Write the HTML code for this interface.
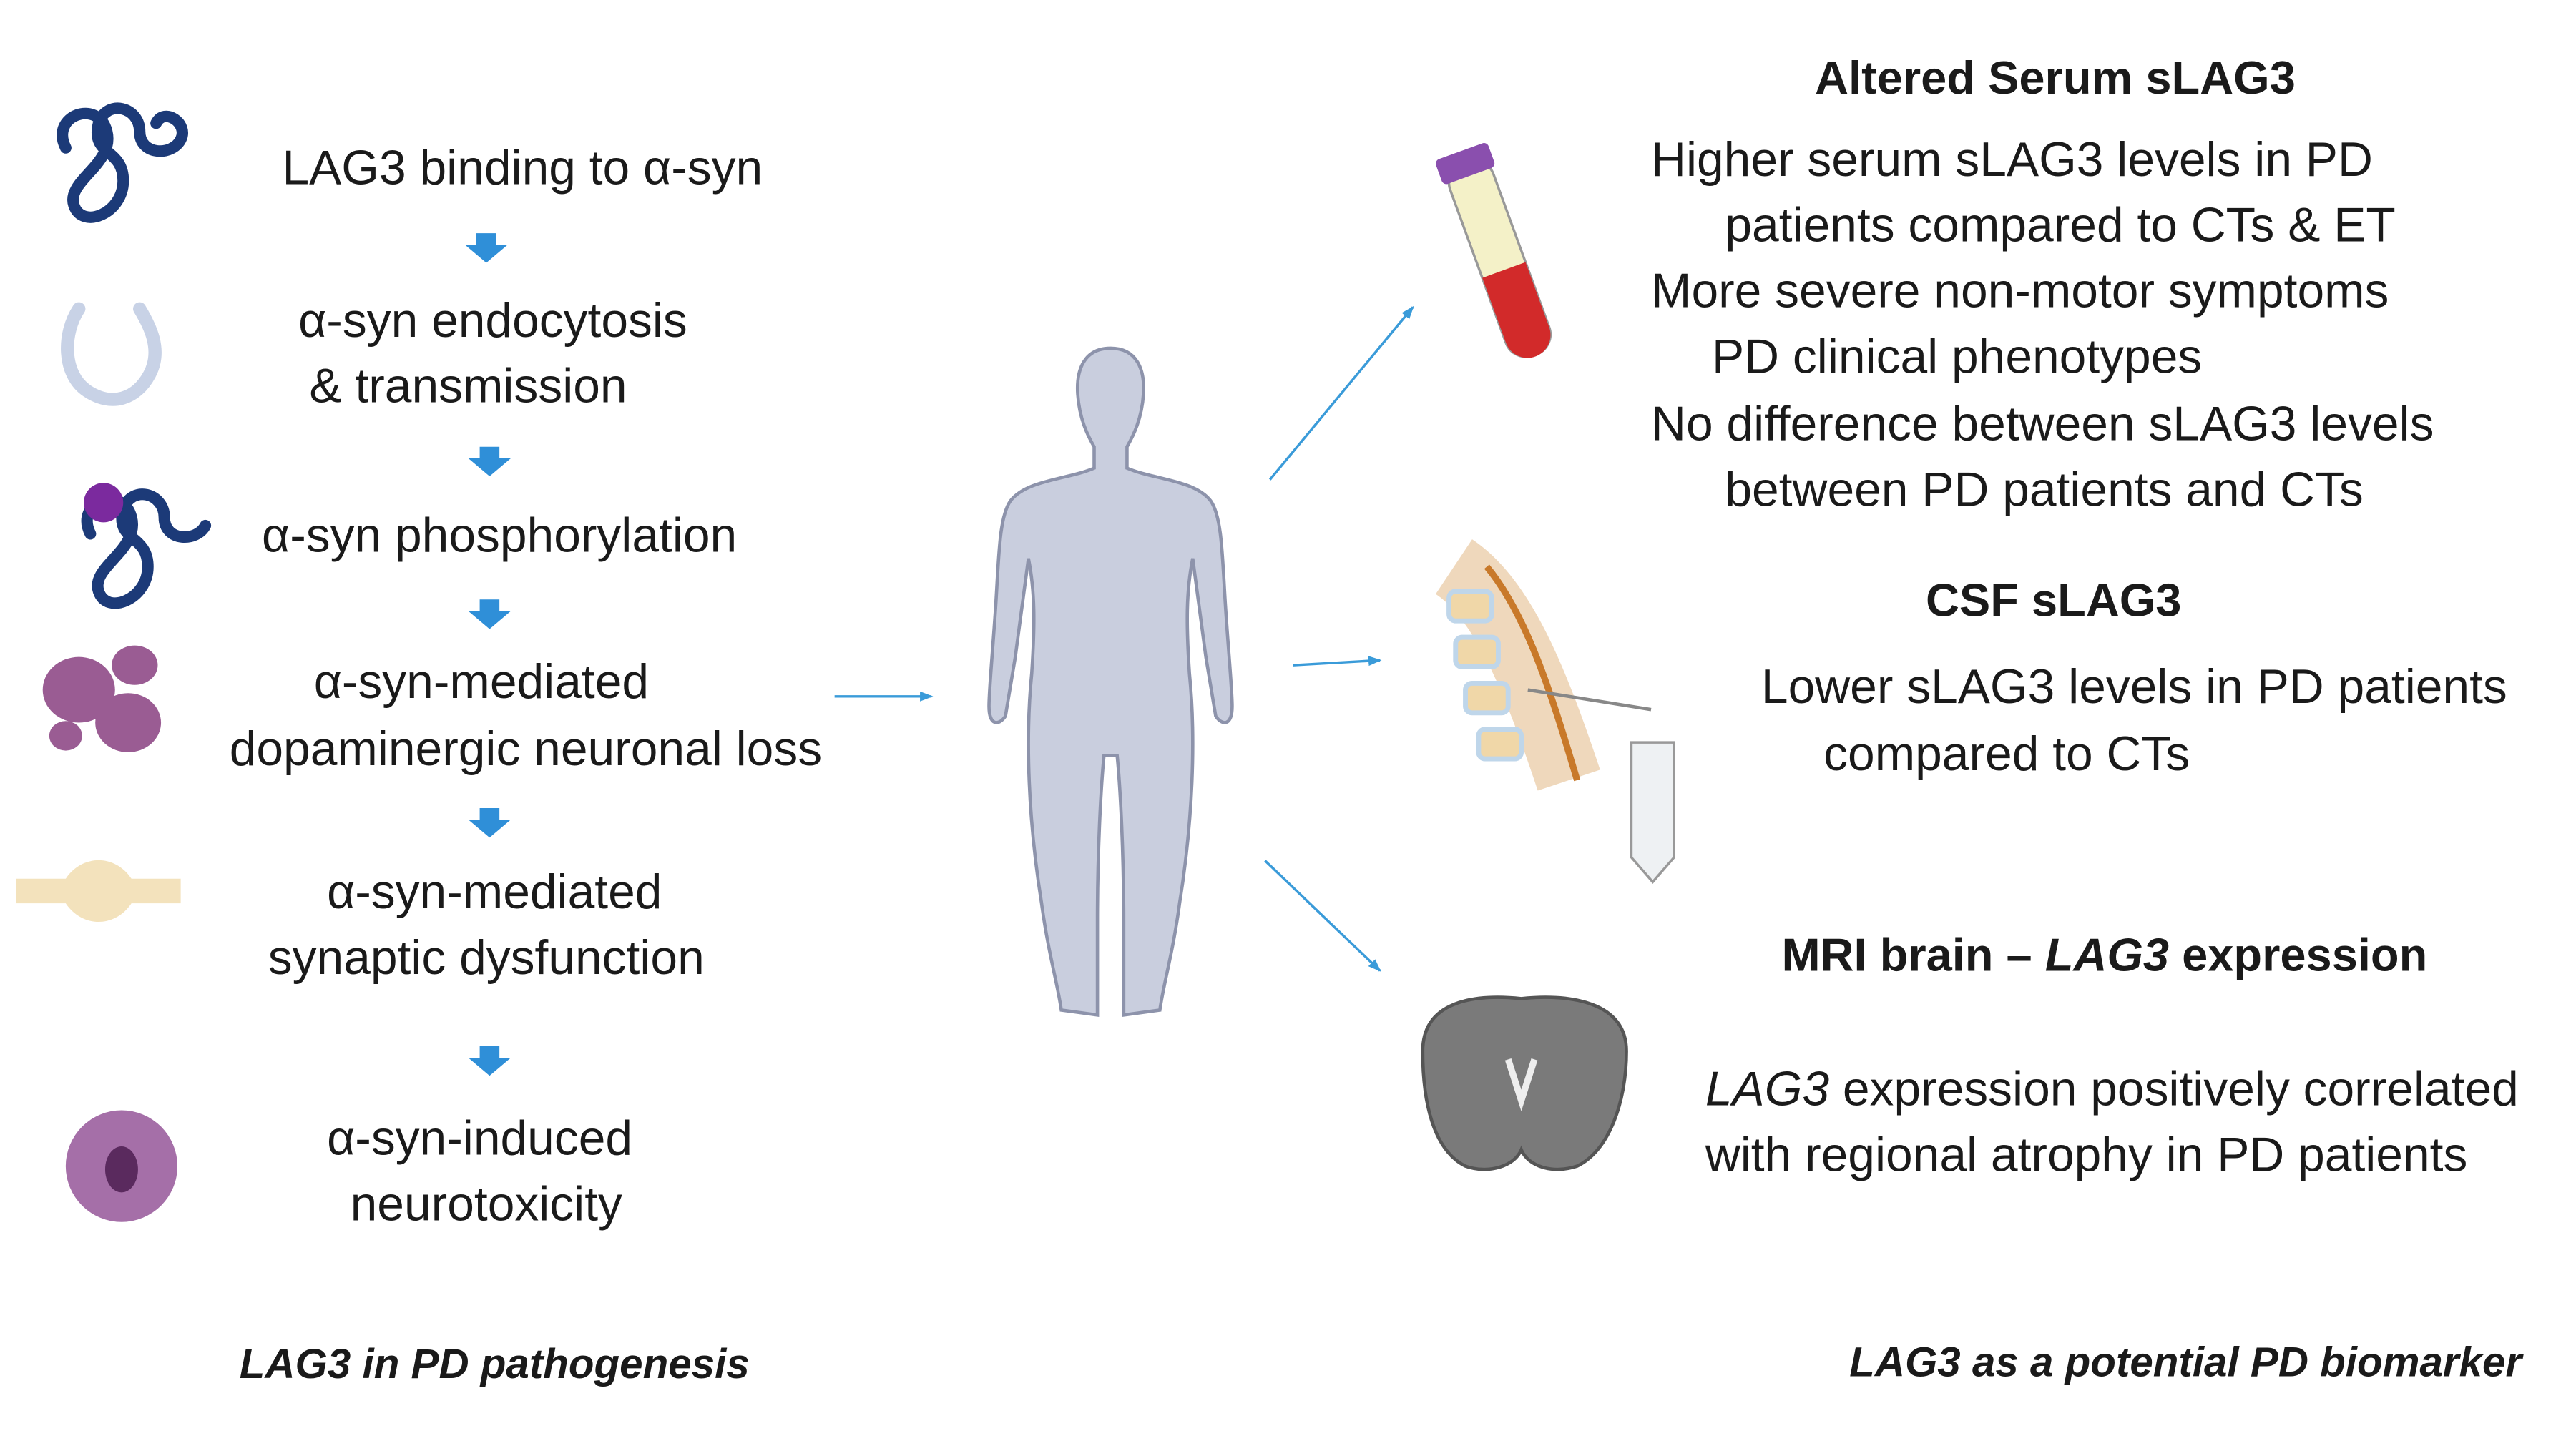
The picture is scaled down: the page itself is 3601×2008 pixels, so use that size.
<!DOCTYPE html>
<html><head><meta charset="utf-8"><style>
html,body{margin:0;padding:0;background:#fff;}
svg{display:block;}
text{font-family:"Liberation Sans",sans-serif;fill:#1a1a1a;}
</style></head><body>
<svg width="3601" height="2008" viewBox="0 0 1568 874.3" xmlns="http://www.w3.org/2000/svg">
<defs>
<marker id="ah" markerWidth="8" markerHeight="8" refX="7" refY="4" orient="auto" markerUnits="userSpaceOnUse"><path d="M0,1 L8,4 L0,7 Z" fill="#3a9bd9"/></marker>
<g id="barrow"><path d="M-6,-8 h12 v7 h7 l-13,11 l-13,-11 h7 z" fill="#2f8fd8"/></g>
</defs>
<g font-size="29.5">
<text x="318" y="112" text-anchor="middle">LAG3 binding to α-syn</text>
<text x="300" y="205" text-anchor="middle">α-syn endocytosis</text>
<text x="285" y="245" text-anchor="middle">&amp; transmission</text>
<text x="304" y="336" text-anchor="middle">α-syn phosphorylation</text>
<text x="293" y="425" text-anchor="middle">α-syn-mediated</text>
<text x="320" y="466" text-anchor="middle">dopaminergic neuronal loss</text>
<text x="301" y="553" text-anchor="middle">α-syn-mediated</text>
<text x="296" y="593" text-anchor="middle">synaptic dysfunction</text>
<text x="292" y="703" text-anchor="middle">α-syn-induced</text>
<text x="296" y="743" text-anchor="middle">neurotoxicity</text>
<text x="1005" y="107">Higher serum sLAG3 levels in PD</text>
<text x="1050" y="147">patients compared to CTs &amp; ET</text>
<text x="1005" y="187">More severe non-motor symptoms</text>
<text x="1042" y="227">PD clinical phenotypes</text>
<text x="1005" y="268">No difference between sLAG3 levels</text>
<text x="1050" y="308">between PD patients and CTs</text>
<text x="1072" y="428">Lower sLAG3 levels in PD patients</text>
<text x="1110" y="469">compared to CTs</text>
<text x="1038" y="673"><tspan font-style="italic">LAG3</tspan> expression positively correlated</text>
<text x="1038" y="713">with regional atrophy in PD patients</text>
</g>
<g font-size="28.3" font-weight="bold">
<text x="1251" y="57" text-anchor="middle">Altered Serum sLAG3</text>
<text x="1250" y="375" text-anchor="middle">CSF sLAG3</text>
<text x="1281" y="591" text-anchor="middle">MRI brain – <tspan font-style="italic">LAG3</tspan> expression</text>
</g>
<g font-size="25.4" font-weight="bold" font-style="italic">
<text x="301" y="839" text-anchor="middle">LAG3 in PD pathogenesis</text>
<text x="1535" y="838" text-anchor="end">LAG3 as a potential PD biomarker</text>
</g>
<use href="#barrow" x="296" y="150"/>
<use href="#barrow" x="298" y="280"/>
<use href="#barrow" x="298" y="373"/>
<use href="#barrow" x="298" y="500"/>
<use href="#barrow" x="298" y="645"/>
<g stroke="#3a9bd9" stroke-width="1.5" marker-end="url(#ah)">
<line x1="508" y1="424" x2="567" y2="424"/>
<line x1="773" y1="292" x2="860" y2="187"/>
<line x1="787" y1="405" x2="840" y2="402"/>
<line x1="770" y1="524" x2="840" y2="591"/>
</g>
<!-- human -->
<path fill="#c9cede" stroke="#8d93ab" stroke-width="2" d="M676,212 C660,212 655,225 656,240 C657,255 662,265 666,272 L666,285 C650,292 625,292 615,305 C608,315 608,340 606,370 C604,400 602,420 602,430 C602,442 608,442 612,436 L618,400 L626,340 C630,360 630,380 628,410 C624,450 626,500 634,550 C638,580 644,600 646,615 L668,618 L668,560 C668,520 670,480 672,460 L680,460 C682,480 684,520 684,560 L684,618 L706,615 C708,600 714,580 718,550 C726,500 728,450 724,410 C722,380 722,360 726,340 L734,400 L740,436 C744,442 750,442 750,430 C750,420 748,400 746,370 C744,340 744,315 737,305 C727,292 702,292 686,285 L686,272 C690,265 695,255 696,240 C697,225 692,212 676,212 Z"/>
<!-- left icons -->
<g fill="none" stroke="#1c3a78" stroke-width="7" stroke-linecap="round">
<path d="M40,90 c-10,-20 20,-30 25,-10 c5,20 -25,30 -20,45 c5,15 30,5 30,-15 c0,-20 -20,-15 -15,-35 c5,-15 25,-10 25,5 c0,15 20,15 25,5 c5,-10 -10,-20 -15,-10"/>
<path d="M55,325 c-10,-20 20,-30 25,-10 c5,20 -25,30 -20,45 c5,15 30,5 30,-15 c0,-20 -20,-15 -15,-35 c5,-15 25,-10 25,5 c0,15 20,15 25,5"/>
</g>
<circle cx="63" cy="306" r="12" fill="#7b2a9e"/>
<path d="M48,188 c-10,15 -10,40 5,50 c15,10 30,5 38,-10 c8,-15 0,-30 -6,-40" fill="none" stroke="#c8d2e6" stroke-width="8" stroke-linecap="round"/>
<g fill="#9a5c93">
<ellipse cx="48" cy="420" rx="22" ry="20"/><ellipse cx="82" cy="405" rx="14" ry="12"/><ellipse cx="78" cy="440" rx="20" ry="18"/><ellipse cx="40" cy="448" rx="10" ry="9"/>
</g>
<g fill="#f3e2bc"><path d="M10,535 h30 c10,-15 30,-15 40,0 h30 v15 h-30 c-10,15 -30,15 -40,0 h-30 z"/></g>
<circle cx="74" cy="710" r="34" fill="#a56fa8"/><ellipse cx="74" cy="712" rx="10" ry="14" fill="#5a2a5e"/>
<!-- right icons -->
<g transform="rotate(-20 912 155)">
<rect x="898" y="95" width="28" height="125" rx="13" fill="#f4f1c8" stroke="#999" stroke-width="1.5"/>
<path d="M898,165 h28 v42 a14,14 0 0 1 -28,0 z" fill="#d22a2a"/>
<rect x="895" y="88" width="34" height="16" rx="3" fill="#8a4fae"/>
</g>
<path d="M885,345 c30,20 50,70 70,130" stroke="#e8c8a0" stroke-width="40" fill="none" opacity="0.7"/>
<path d="M905,345 c25,30 40,80 55,130" stroke="#c8792a" stroke-width="4" fill="none"/>
<g fill="#f0d7a8" stroke="#bfd6ea" stroke-width="3"><rect x="882" y="360" width="26" height="18" rx="4"/><rect x="886" y="388" width="26" height="18" rx="4"/><rect x="892" y="416" width="26" height="18" rx="4"/><rect x="900" y="444" width="26" height="18" rx="4"/></g>
<line x1="930" y1="420" x2="1005" y2="432" stroke="#888" stroke-width="2"/>
<path d="M993,452 h26 v70 l-13,15 l-13,-15 z" fill="#eef1f3" stroke="#999" stroke-width="1.5"/>
<path d="M866,640 c0,-30 30,-35 60,-32 c30,-3 64,2 64,32 c0,30 -10,60 -30,70 c-15,5 -30,0 -34,-10 c-4,10 -20,15 -34,10 c-20,-10 -26,-40 -26,-70 z" fill="#7a7a7a" stroke="#555" stroke-width="2"/>
<path d="M918,645 l8,25 l8,-25" stroke="#eee" stroke-width="4" fill="none"/>
</svg>
</body></html>
